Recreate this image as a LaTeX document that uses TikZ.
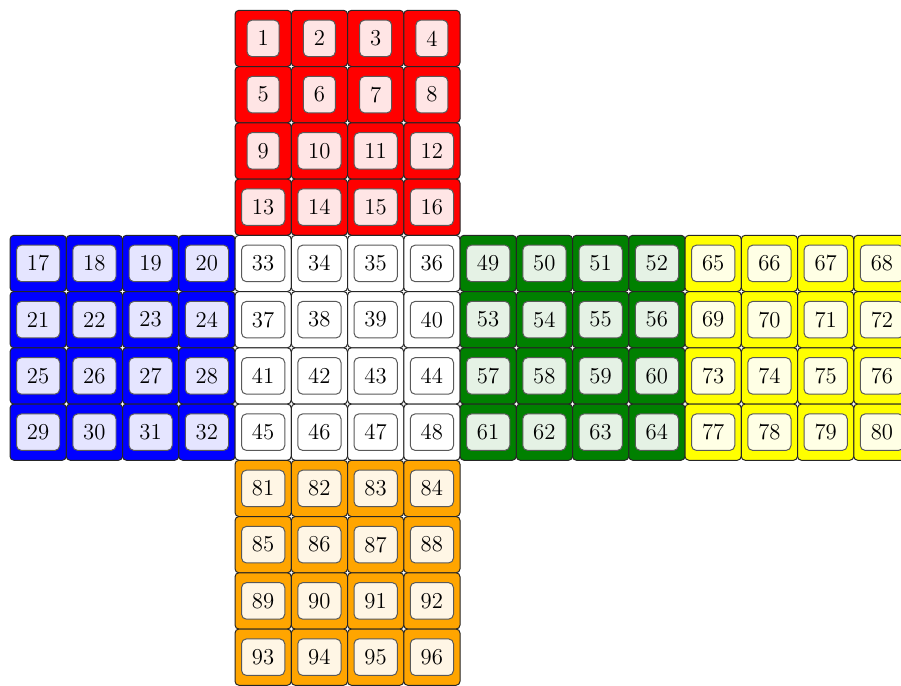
\documentclass[tikz,border=0pt]{standalone}
\usepackage{tikz}
\usepackage{xcolor}
\usetikzlibrary{positioning}
\definecolor{Cube_Red}{HTML}{FF0000}
\definecolor{Cube_Blue}{HTML}{0000FF}
\definecolor{Cube_Green}{HTML}{008000}
\definecolor{Cube_Yellow}{HTML}{FFFF00}
\definecolor{Cube_Orange}{HTML}{FFA500}
\definecolor{Cube_White}{HTML}{FFFFFF}

\begin{document}
\begin{tikzpicture}[
    x=1cm, y=-1cm,
    cell/.style={minimum size=1cm, inner sep=0pt, draw=black!85, line width=0.5pt, rounded corners=2pt, anchor=center},
    tag/.style={draw=black!65, line width=0.5pt, rounded corners=2.5pt, minimum height=0.65cm, inner xsep=5.3pt, inner ysep=0pt, font=\fontsize{11.5}{13}\selectfont}
]
\useasboundingbox (-0.178,-0.183) rectangle (15.84,11.995);

% faces: first number / column / row / colour
\foreach \base/\fc/\fr/\col in {0/4/0/Cube_Red, 16/0/4/Cube_Blue, 32/4/4/Cube_White,
                                48/8/4/Cube_Green, 64/12/4/Cube_Yellow, 80/4/8/Cube_Orange}{
  \foreach \r in {0,...,3}{
    \foreach \c in {0,...,3}{
      \pgfmathtruncatemacro{\k}{\base+4*\r+\c+1}
      \node[cell, fill=\col] (c\k) at (\fc+\c+0.5, \fr+\r+0.5) {};
      \node[tag, fill=\col!10] (n\k) at (c\k) {\k};
    }
  }
}

\end{tikzpicture}
\end{document}
